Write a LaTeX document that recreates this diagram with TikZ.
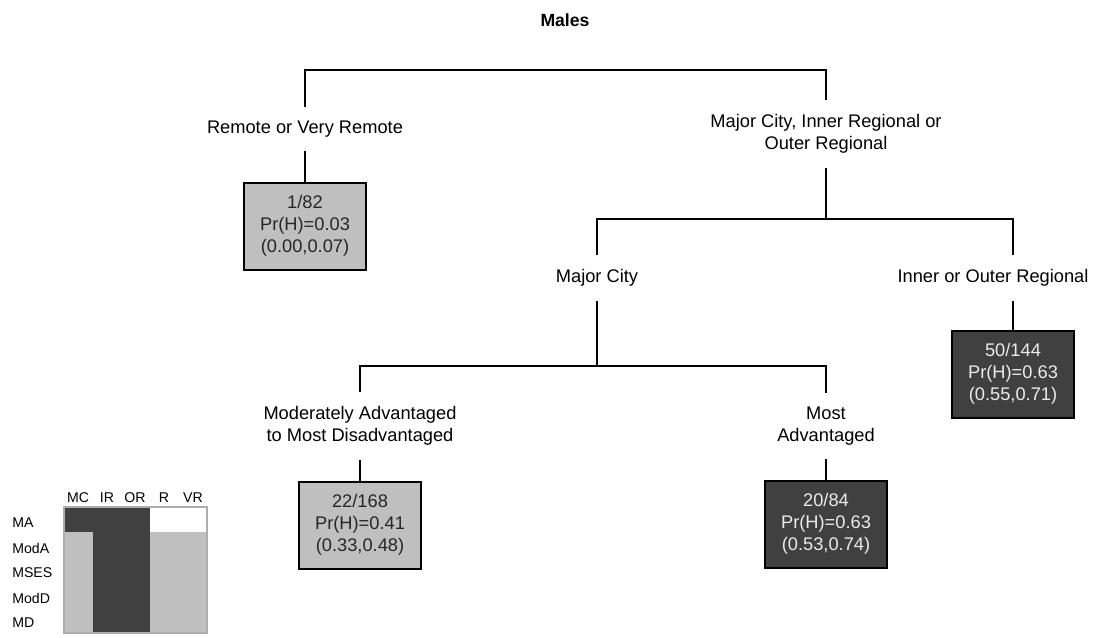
\documentclass[tikz,border=0pt]{standalone}
\usepackage{fontspec}
\setmainfont{Liberation Sans}
\usetikzlibrary{positioning}
\definecolor{tLight}{gray}{0.75}
\definecolor{tDark}{gray}{0.25}
\definecolor{tFrame}{gray}{0.68}
\tikzset{
    edge/.style={draw, line width=1.5pt},
    lbl/.style={align=center, inner xsep=2pt, inner ysep=10.5pt},
    leaf/.style={draw, line width=1.5pt, align=center, fill=tLight, text=black!85,
                 minimum width=91.5pt, minimum height=65.25pt, inner sep=0pt},
    leafdark/.style={leaf, fill=tDark, text=white!92!black},
    keytxt/.style={font=\fontsize{10.6}{12}\selectfont, inner sep=0pt}
}
\begin{document}
\begin{tikzpicture}[x=0.75pt,y=-0.75pt,font=\fontsize{13.7}{16.5}\selectfont]
\useasboundingbox (0,0) rectangle (1100,637);
\node[font=\fontsize{13.2}{16}\selectfont\bfseries] (title) at (565,20) {Males};
% splits
\node[lbl] (rvr) at (305,129) {Remote or Very Remote};
\node[lbl] (mir) at (826,134) {Major City, Inner Regional or\\Outer Regional};
\node[lbl] (mc) at (597,278) {Major City};
\node[lbl] (ior) at (993,278) {Inner or Outer Regional};
\node[lbl] (mad) at (360,426) {Moderately Advantaged\\to Most Disadvantaged};
\node[lbl] (ma) at (826,426) {Most\\Advantaged};
% leaves
\node[leaf] (b1) at (305,226) {1/82\\Pr(H)=0.03\\(0.00,0.07)};
\node[leafdark] (b2) at (1013,374) {50/144\\Pr(H)=0.63\\(0.55,0.71)};
\node[leaf] (b3) at (360,525) {22/168\\Pr(H)=0.41\\(0.33,0.48)};
\node[leafdark] (b4) at (826,524) {20/84\\Pr(H)=0.63\\(0.53,0.74)};
% joints
\coordinate (j1) at (565,70);
\coordinate (j2) at (826,219);
\coordinate (j3) at (597,366);
\draw[edge] (rvr.north) |- (j1) -| (mir.north);
\draw[edge] (rvr.south) -- (b1.north);
\draw[edge] (mir.south) -- (j2);
\draw[edge] (mc.north) |- (j2) -| (ior.north -| b2.north);
\draw[edge] (ior.south -| b2.north) -- (b2.north);
\draw[edge] (mc.south) -- (j3);
\draw[edge] (mad.north) |- (j3) -| (ma.north);
\draw[edge] (mad.south) -- (b3.north);
\draw[edge] (ma.south) -- (b4.north);
% key
\fill[tDark] (64,507) rectangle (150,532);
\fill[tDark] (92.6,532) rectangle (150,633);
\fill[tLight] (64,532) rectangle (92.6,633);
\fill[tLight] (150,532) rectangle (207,633);
\fill[white] (150,507) rectangle (207,532);
\draw[tFrame, line width=1.2pt] (64,507) rectangle (207,633);
\node[keytxt] (kMC) at (78,498) {MC};
\node[keytxt] (kIR) at (107,498) {IR};
\node[keytxt] (kOR) at (135,498) {OR};
\node[keytxt] (kR) at (164,498) {R};
\node[keytxt] (kVR) at (193,498) {VR};
\node[keytxt, anchor=west] (kMA) at (12,523) {MA};
\node[keytxt, anchor=west] (kModA) at (12,548) {ModA};
\node[keytxt, anchor=west] (kMSES) at (12,573) {MSES};
\node[keytxt, anchor=west] (kModD) at (12,598) {ModD};
\node[keytxt, anchor=west] (kMD) at (12,623) {MD};
\end{tikzpicture}
\end{document}
